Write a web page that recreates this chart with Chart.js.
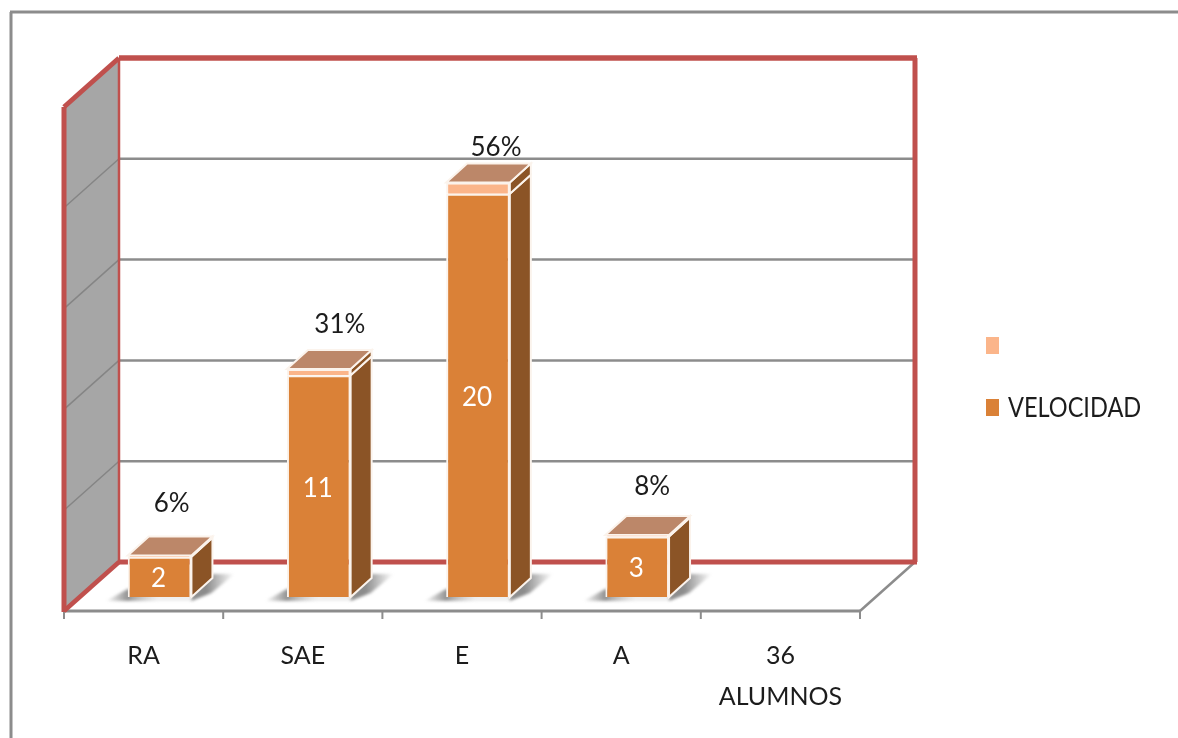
<!DOCTYPE html>
<html>
<head>
<meta charset="utf-8">
<style>
  html, body { margin: 0; padding: 0; background: #fff; }
  #wrap { width: 1178px; height: 738px; position: relative; overflow: hidden; }
</style>
<script src="https://cdn.jsdelivr.net/npm/chart.js@4"></script>
</head>
<body>
<div id="wrap"><canvas id="chart" width="1178" height="738"></canvas></div>
<script>
const categories = ['RA', 'SAE', 'E', 'A', ['36', 'ALUMNOS']];
const seriesNames = ['VELOCIDAD', ''];
const alumnos = [2, 11, 20, 3, null];
const porcentaje = [0.06, 0.31, 0.56, 0.08, null];
const axisMax = 25;
const axisStep = 5;

// hand placed percent labels, relative to the top of each bar
const pctShiftX = [12, 21, 18, 15];
const pctShiftY = [52, 44, 35, 48];

const FONT = 'Lato, "Open Sans", sans-serif';
const RED = '#C0504D';
const GREY = '#8C8C8C';
const ORANGE = '#DA8137';
const PALE = '#FBB58A';

// how far the bar plane sits from the front of the floor, and the room depth
const floorDx = 16, floorDy = 14;
const roomDx = 55, roomDy = 49;
const barDx = 21, barDy = 19;

function line(ctx, x0, y0, x1, y1, color, width) {
  ctx.strokeStyle = color;
  ctx.lineWidth = width;
  ctx.beginPath();
  ctx.moveTo(x0, y0);
  ctx.lineTo(x1, y1);
  ctx.stroke();
}

function poly(ctx, pts, fill, stroke) {
  ctx.beginPath();
  pts.forEach((p, i) => i ? ctx.lineTo(p[0], p[1]) : ctx.moveTo(p[0], p[1]));
  ctx.closePath();
  ctx.fillStyle = fill;
  ctx.fill();
  if (stroke) {
    ctx.strokeStyle = stroke;
    ctx.lineWidth = 2;
    ctx.stroke();
  }
}

const roomPlugin = {
  id: 'room',
  beforeDatasetsDraw(chart) {
    const { ctx, scales: { x, y } } = chart;
    const fl = x.left - floorDx, fr = x.right - floorDx;
    const front = v => y.getPixelForValue(v) + floorDy;
    const back = v => front(v) - roomDy;
    const bl = fl + roomDx, br = fr + roomDx;
    ctx.save();
    ctx.lineJoin = 'miter';

    // page frame
    line(ctx, 11, 738, 11, 12, GREY, 3);
    line(ctx, 10, 12, 1178, 12, GREY, 3);

    // left wall
    poly(ctx, [[fl, front(axisMax)], [bl, back(axisMax)], [bl, back(0)], [fl, front(0)]], '#A6A6A6');

    // grid lines
    for (let v = axisStep; v < axisMax; v += axisStep) {
      line(ctx, fl, front(v), bl, back(v), '#858585', 1.5);
      line(ctx, bl, back(v), br, back(v), GREY, 2.5);
    }

    // floor and ticks
    line(ctx, fl, front(0), fr, front(0), GREY, 3);
    line(ctx, fr, front(0), br, back(0), GREY, 2.5);
    const step = (x.right - x.left) / categories.length;
    for (let i = 0; i <= categories.length; i++) {
      line(ctx, fl + i * step, front(0), fl + i * step, front(0) + 8, GREY, 2);
    }

    // red wall edges
    line(ctx, bl, back(axisMax), bl, back(0), RED, 2.5);
    line(ctx, br, back(axisMax), br, back(0), RED, 5);
    line(ctx, bl, back(0), br + 2, back(0), RED, 5);
    line(ctx, bl, back(0), fl, front(0), RED, 4.5);
    line(ctx, fl, front(0) + 1, fl, front(axisMax), RED, 5);
    line(ctx, fl, front(axisMax), bl, back(axisMax), RED, 5);
    line(ctx, bl, back(axisMax), br + 2, back(axisMax), RED, 5.5);

    // bar shadows on the floor, then side and top faces
    const metas = [chart.getDatasetMeta(0), chart.getDatasetMeta(1)];
    metas[0].data.forEach((el, i) => {
      if (alumnos[i] == null) return;
      const x0 = el.x - el.width / 2, x1 = el.x + el.width / 2, base = el.base;

      ctx.filter = 'blur(1.5px)';
      let g = ctx.createLinearGradient(x0 - 22, 0, x0 + 30, 0);
      g.addColorStop(0, 'rgba(120,120,120,0)');
      g.addColorStop(0.42, 'rgba(120,120,120,0.8)');
      g.addColorStop(1, 'rgba(200,200,200,0.3)');
      poly(ctx, [[x0 - 22, base + 4], [x1, base + 4], [x1, base - 8], [x0, base - 8]], g);

      g = ctx.createLinearGradient(x1 + barDx - 6, 0, x1 + barDx + 22, 0);
      g.addColorStop(0, 'rgba(120,120,120,0.85)');
      g.addColorStop(1, 'rgba(120,120,120,0)');
      poly(ctx, [[x1 + barDx, base - barDy - 4], [x1 + barDx + 22, base - barDy - 4], [x1 + 20, base - 4], [x1, base + 4], [x1, base]], g);
      ctx.filter = 'none';

      metas.forEach(m => {
        const s = m.data[i];
        poly(ctx, [[x1, s.y], [x1 + barDx, s.y - barDy], [x1 + barDx, s.base - barDy], [x1, s.base]], '#8B5426', '#FBF3EC');
      });
      const top = metas[1].data[i].y;
      poly(ctx, [[x0, top], [x0 + barDx, top - barDy], [x1 + barDx, top - barDy], [x1, top]], '#BC8769', '#FBF3EC');
    });
    ctx.restore();
  },
  afterDatasetsDraw(chart) {
    const { ctx } = chart;
    const low = chart.getDatasetMeta(0).data, high = chart.getDatasetMeta(1).data;
    ctx.save();
    ctx.font = '26px ' + FONT;
    ctx.textAlign = 'center';
    ctx.textBaseline = 'middle';
    alumnos.forEach((v, i) => {
      if (v == null) return;
      ctx.fillStyle = '#fff';
      ctx.fillText(String(v), low[i].x - 1, (low[i].y + low[i].base) / 2 + 2);
      ctx.fillStyle = '#1c1c1c';
      ctx.fillText(Math.round(porcentaje[i] * 100) + '%', high[i].x + pctShiftX[i], high[i].y - pctShiftY[i]);
    });

    // legend, top entry first
    ctx.textAlign = 'left';
    const area = chart.chartArea;
    [1, 0].forEach((d, row) => {
      const ds = chart.data.datasets[d];
      const ly = area.top + 252 + row * 62;
      const lx = area.right + 110;
      ctx.fillStyle = ds.backgroundColor;
      ctx.fillRect(lx, ly - 8, 13, 17);
      ctx.fillStyle = '#1c1c1c';
      // reference text runs narrower than Lato
      ctx.save();
      ctx.translate(lx + 22, ly + 2);
      ctx.scale(0.905, 1);
      ctx.fillText(ds.label, 0, 0);
      ctx.restore();
    });
    ctx.restore();
  }
};

new Chart(document.getElementById('chart'), {
  type: 'bar',
  data: {
    labels: categories,
    datasets: [
      { label: seriesNames[0], data: alumnos, backgroundColor: ORANGE },
      { label: seriesNames[1], data: porcentaje, backgroundColor: PALE }
    ]
  },
  options: {
    responsive: false,
    animation: false,
    layout: { padding: { left: 80, right: 302, top: 93, bottom: 0 } },
    datasets: {
      bar: {
        categoryPercentage: 1,
        barPercentage: 0.4,
        borderColor: '#FBF3EC',
        borderWidth: 2
      }
    },
    plugins: { legend: { display: false }, tooltip: { enabled: false } },
    scales: {
      x: {
        stacked: true,
        grid: { display: false },
        border: { display: false },
        afterFit: scale => { scale.height = 141; },
        ticks: {
          autoSkip: false,
          maxRotation: 0,
          labelOffset: -16,
          padding: 30,
          color: '#1c1c1c',
          font: { family: FONT, size: 25, lineHeight: 1.64 }
        }
      },
      y: {
        display: false,
        stacked: true,
        min: 0,
        max: axisMax,
        ticks: { stepSize: axisStep }
      }
    }
  },
  plugins: [roomPlugin]
});
</script>
</body>
</html>
